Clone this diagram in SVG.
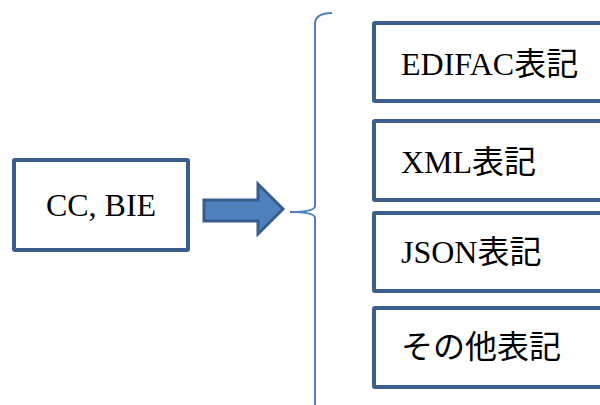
<svg xmlns="http://www.w3.org/2000/svg" width="600" height="405" viewBox="0 0 600 405">
<style>
.box{fill:#fff;stroke:#3B5E8C;stroke-width:4}
.t{font-family:"Liberation Serif","Noto Sans CJK JP",serif;font-size:32px;fill:#000}
</style>
<rect width="600" height="405" fill="#fff"/>
<g id="cc-bie">
<rect class="box" x="14" y="160" width="174" height="90" rx="1"/>
<text class="t" x="101" y="216" text-anchor="middle">CC, BIE</text>
</g>
<g id="connectors">
<path d="M204,200 L258,200 L258,184 L283,209 L258,234 L258,221 L204,221 Z" fill="#4F81BD" stroke="#385D8A" stroke-width="3" stroke-linejoin="miter"/>
<path d="M332,13 Q315,13 315,24 L315,206 Q315,212 290,212 Q315,212 315,218 L315,410" fill="none" stroke="#4F81BD" stroke-width="2"/>
</g>
<g id="edifac">
<rect class="box" x="374" y="23" width="240" height="78" rx="1"/>
<text class="t" x="401" y="75">EDIFAC表記</text>
</g>
<g id="xml">
<rect class="box" x="374" y="121" width="240" height="79" rx="1"/>
<text class="t" x="401" y="173">XML表記</text>
</g>
<g id="json">
<rect class="box" x="374" y="213" width="240" height="78" rx="1"/>
<text class="t" x="401" y="263">JSON表記</text>
</g>
<g id="other">
<rect class="box" x="374" y="308" width="240" height="79" rx="1"/>
<text class="t" x="401" y="358">その他表記</text>
</g>
</svg>
